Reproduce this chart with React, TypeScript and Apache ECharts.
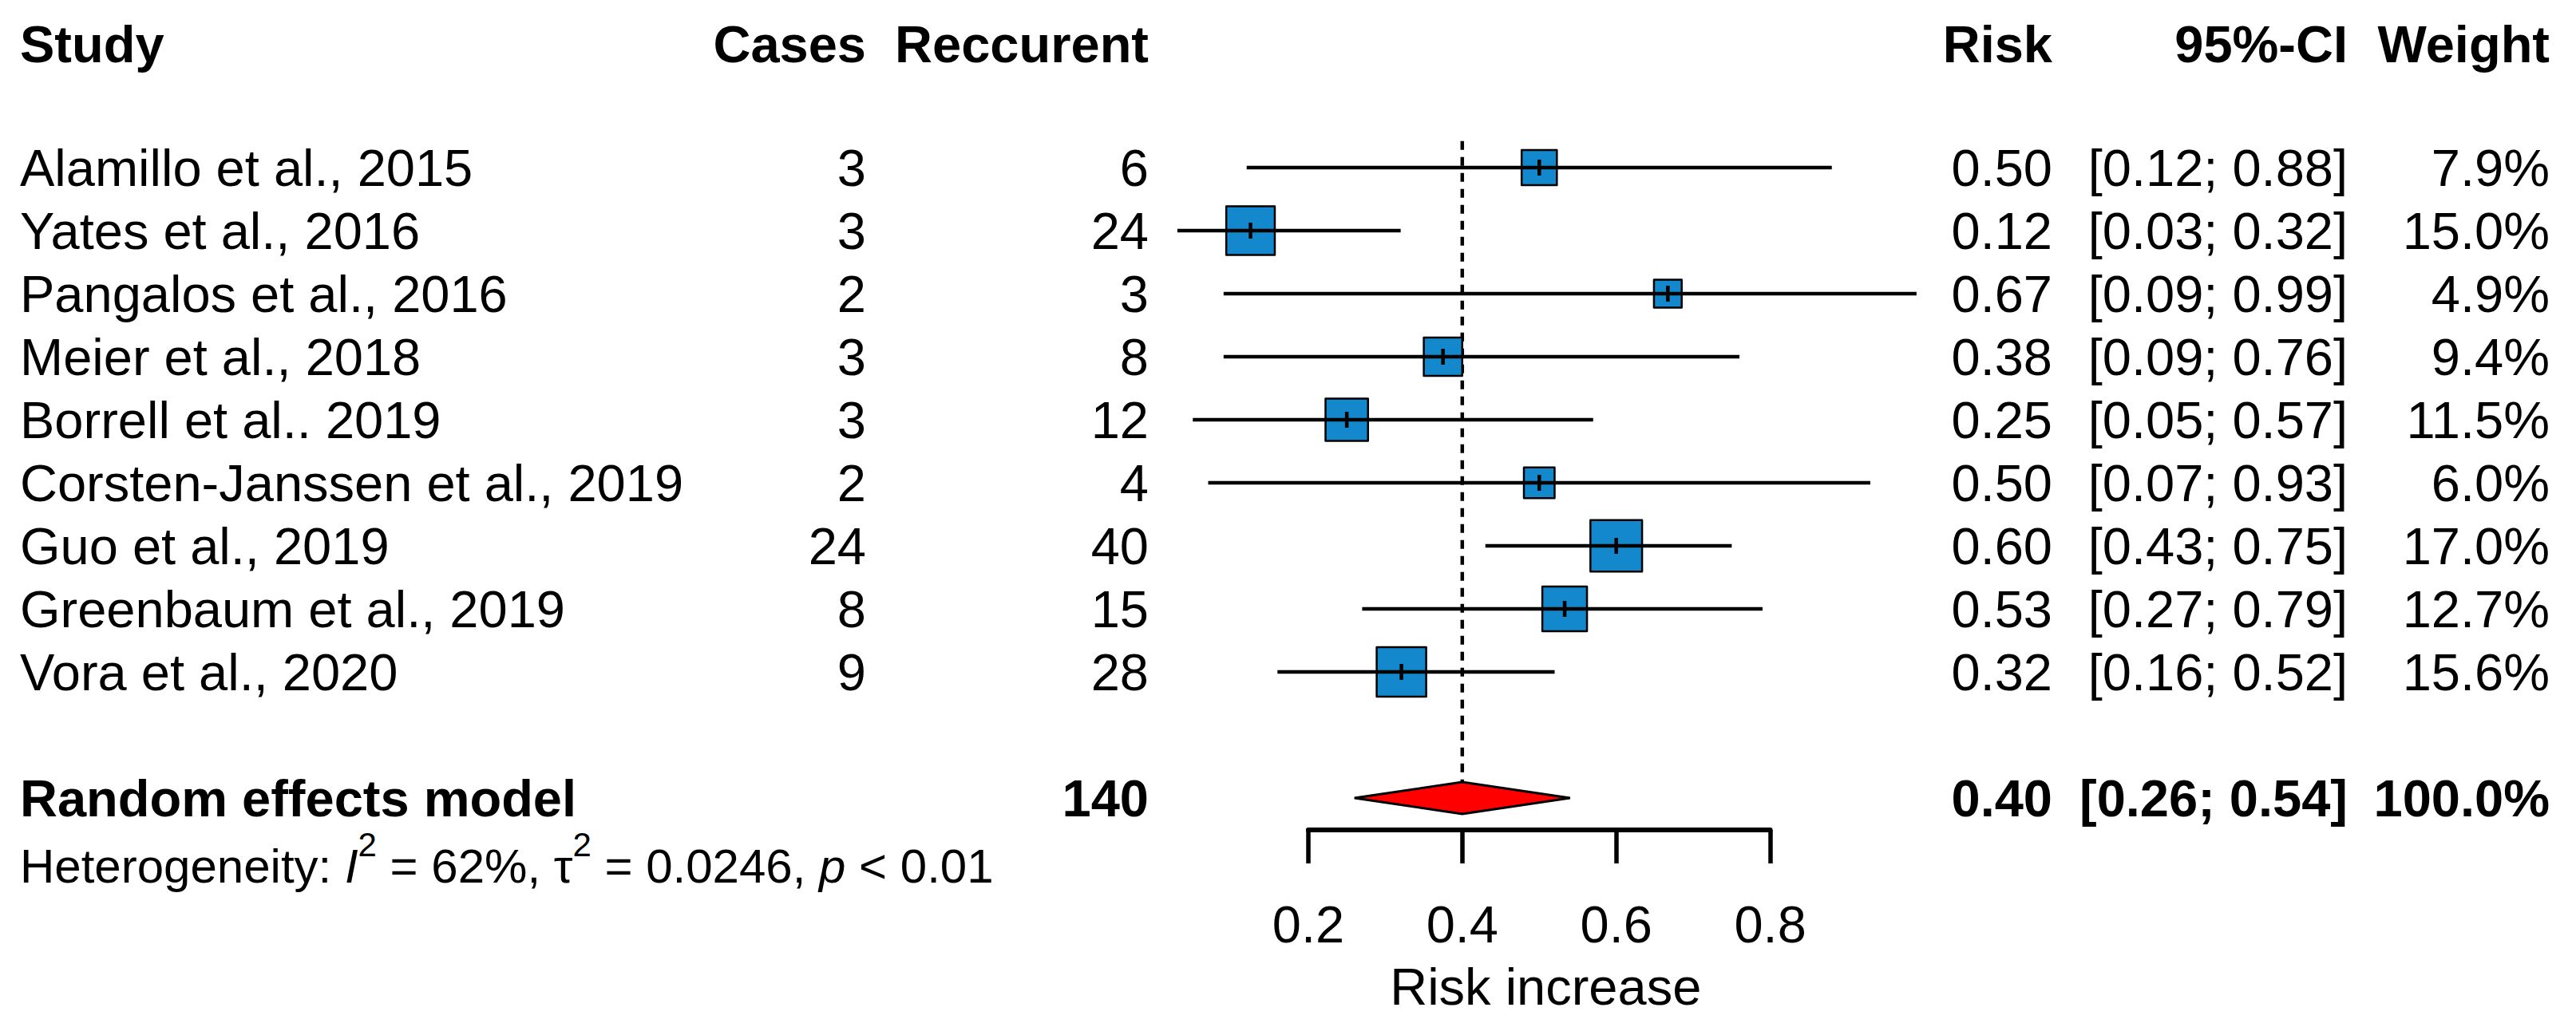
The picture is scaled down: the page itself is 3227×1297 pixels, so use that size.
import React, { useEffect, useRef } from "react";
import * as echarts from "echarts";

// ---------- data ----------
const HEADERS = ["Study", "Cases", "Reccurent", "Risk", "95%-CI", "Weight"];
const STUDIES = [
  "Alamillo et al., 2015",
  "Yates et al., 2016",
  "Pangalos et al., 2016",
  "Meier et al., 2018",
  "Borrell et al.. 2019",
  "Corsten-Janssen et al., 2019",
  "Guo et al., 2019",
  "Greenbaum et al., 2019",
  "Vora et al., 2020",
];
const CASES = [3, 3, 2, 3, 3, 2, 24, 8, 9];
const RECURRENT = [6, 24, 3, 8, 12, 4, 40, 15, 28];
const RISK = [0.5, 0.12, 0.67, 0.38, 0.25, 0.5, 0.6, 0.53, 0.32];
// point estimates as placed in the plot
const POINT = [0.5, 0.125, 0.667, 0.375, 0.25, 0.5, 0.6, 0.533, 0.321];
const CI_LOW = [0.12, 0.03, 0.09, 0.09, 0.05, 0.07, 0.43, 0.27, 0.16];
const CI_HIGH = [0.88, 0.32, 0.99, 0.76, 0.57, 0.93, 0.75, 0.79, 0.52];
const WEIGHT = [7.9, 15.0, 4.9, 9.4, 11.5, 6.0, 17.0, 12.7, 15.6];

const POOLED_LABEL = "Random effects model";
const POOLED_TOTAL = 140;
const POOLED_EST = 0.4;
const POOLED_LOW = 0.26;
const POOLED_HIGH = 0.54;
const POOLED_WEIGHT = 100.0;

const HET_I2 = "62%";
const HET_TAU2 = "0.0246";
const HET_P = "< 0.01";

const X_TICKS = [0.2, 0.4, 0.6, 0.8];
const X_NAME = "Risk increase";

// ---------- layout ----------
const W = 3227;
const H = 1297;
const FONT = '"Liberation Sans", Arial, Helvetica, sans-serif';
const FS = 65;
const FS_HET = 60;
const ROW0 = 210; // px centre of first study row
const ROW_H = 79; // px per row
const HEADER_ROW = -1.95;
const POOLED_ROW = 10;
const HET_ROW = 11.08;
const REF_TOP_ROW = -0.42;
const X0 = 1446; // px of value 0
const XS = 964.5; // px per unit
const PLOT_LEFT = X0 + XS * X_TICKS[0];
const PLOT_W = XS * (X_TICKS[X_TICKS.length - 1] - X_TICKS[0]);
const AXIS_Y = 1040;
const COL_X = [25, 1085, 1439, 2571, 2941, 3194];
const BLUE = "#1388CC";
const SQ_K = 15.7;
const DIAMOND_HALF = 20;
const CI_W = 4.6;

type Row = { k: number; bold: boolean; cells: string[] };

const tableRows: Row[] = [
  { k: HEADER_ROW, bold: true, cells: HEADERS },
  ...STUDIES.map((s, i) => ({
    k: i,
    bold: false,
    cells: [
      s,
      String(CASES[i]),
      String(RECURRENT[i]),
      RISK[i].toFixed(2),
      `[${CI_LOW[i].toFixed(2)}; ${CI_HIGH[i].toFixed(2)}]`,
      `${WEIGHT[i].toFixed(1)}%`,
    ],
  })),
  {
    k: POOLED_ROW,
    bold: true,
    cells: [
      POOLED_LABEL,
      "",
      String(POOLED_TOTAL),
      POOLED_EST.toFixed(2),
      `[${POOLED_LOW.toFixed(2)}; ${POOLED_HIGH.toFixed(2)}]`,
      `${POOLED_WEIGHT.toFixed(1)}%`,
    ],
  },
];

function buildOption(): any {
  const yMin = -ROW0 / ROW_H;
  return {
    animation: false,
    backgroundColor: "#ffffff",
    grid: [
      { left: 0, top: 0, width: W, height: H, outerBoundsMode: "none", containLabel: false },
      { left: PLOT_LEFT, top: 0, width: PLOT_W, height: AXIS_Y, outerBoundsMode: "none", containLabel: false },
    ],
    xAxis: [
      { gridIndex: 0, type: "value", min: 0, max: W, show: false },
      {
        gridIndex: 1,
        type: "value",
        min: X_TICKS[0],
        max: X_TICKS[X_TICKS.length - 1],
        interval: X_TICKS[1] - X_TICKS[0],
        axisLine: { show: true, onZero: false, lineStyle: { color: "#000", width: 6 } },
        axisTick: { show: true, length: 42, lineStyle: { color: "#000", width: 5.5 } },
        splitLine: { show: false },
        axisLabel: {
          show: true,
          margin: 86,
          fontSize: FS,
          fontFamily: FONT,
          color: "#000",
          formatter: (v: number) => v.toFixed(1),
        },
        name: X_NAME,
        nameLocation: "middle",
        nameGap: 164,
        nameTextStyle: { fontSize: FS, fontFamily: FONT, color: "#000", padding: [0, 0, 0, 16] },
      },
    ],
    yAxis: [
      { gridIndex: 0, type: "value", inverse: true, min: yMin, max: (H - ROW0) / ROW_H, show: false },
      { gridIndex: 1, type: "value", inverse: true, min: yMin, max: (AXIS_Y - ROW0) / ROW_H, show: false },
    ],
    series: [
      // dotted reference line at the pooled estimate
      {
        type: "custom",
        xAxisIndex: 1,
        yAxisIndex: 1,
        silent: true,
        data: [[POOLED_EST, REF_TOP_ROW, POOLED_ROW]],
        renderItem: (params: any, api: any) => {
          const top = api.coord([api.value(0), api.value(1)]);
          const bot = api.coord([api.value(0), api.value(2)]);
          return {
            type: "line",
            shape: { x1: top[0], y1: top[1], x2: bot[0], y2: bot[1] - DIAMOND_HALF },
            style: { stroke: "#000", lineWidth: 4.5, lineDash: [11, 9] },
          };
        },
      },
      // study CIs + squares
      {
        type: "custom",
        xAxisIndex: 1,
        yAxisIndex: 1,
        silent: true,
        data: STUDIES.map((_, i) => [POINT[i], i, CI_LOW[i], CI_HIGH[i], WEIGHT[i]]),
        renderItem: (params: any, api: any) => {
          const c = api.coord([api.value(0), api.value(1)]);
          const lo = api.coord([api.value(2), api.value(1)]);
          const hi = api.coord([api.value(3), api.value(1)]);
          const s = SQ_K * Math.sqrt(api.value(4));
          return {
            type: "group",
            children: [
              {
                type: "rect",
                shape: { x: c[0] - s / 2, y: c[1] - s / 2, width: s, height: s },
                style: { fill: BLUE, stroke: "#000", lineWidth: 2.5, lineJoin: "round" },
              },
              {
                type: "line",
                shape: { x1: lo[0], y1: c[1], x2: hi[0], y2: c[1] },
                style: { stroke: "#000", lineWidth: CI_W },
              },
              {
                type: "line",
                shape: { x1: c[0], y1: c[1] - 10, x2: c[0], y2: c[1] + 10 },
                style: { stroke: "#000", lineWidth: 4.5 },
              },
            ],
          };
        },
      },
      // pooled diamond
      {
        type: "custom",
        xAxisIndex: 1,
        yAxisIndex: 1,
        silent: true,
        data: [[POOLED_EST, POOLED_ROW, POOLED_LOW, POOLED_HIGH]],
        renderItem: (params: any, api: any) => {
          const c = api.coord([api.value(0), api.value(1)]);
          const lo = api.coord([api.value(2), api.value(1)]);
          const hi = api.coord([api.value(3), api.value(1)]);
          return {
            type: "polygon",
            shape: {
              points: [
                [lo[0], c[1]],
                [c[0], c[1] - DIAMOND_HALF],
                [hi[0], c[1]],
                [c[0], c[1] + DIAMOND_HALF],
              ],
            },
            style: { fill: "#FF0000", stroke: "#000", lineWidth: 3 },
          };
        },
      },
      // table text
      {
        type: "custom",
        xAxisIndex: 0,
        yAxisIndex: 0,
        silent: true,
        data: tableRows.map((r) => [0, r.k]),
        renderItem: (params: any, api: any) => {
          const r = tableRows[params.dataIndex];
          return {
            type: "group",
            children: r.cells.map((t, j) => {
              const p = api.coord([COL_X[j], r.k]);
              return {
                type: "text",
                x: p[0],
                y: p[1],
                style: {
                  text: t,
                  align: j === 0 ? "left" : "right",
                  verticalAlign: "middle",
                  fontSize: FS,
                  fontFamily: FONT,
                  fontWeight: r.bold ? "bold" : "normal",
                  fill: "#000",
                },
              };
            }),
          };
        },
      },
      // heterogeneity line
      {
        type: "custom",
        xAxisIndex: 0,
        yAxisIndex: 0,
        silent: true,
        data: [[COL_X[0], HET_ROW]],
        renderItem: (params: any, api: any) => {
          const p = api.coord([api.value(0), api.value(1)]);
          return {
            type: "text",
            x: p[0],
            y: p[1],
            style: {
              text: `{n|Heterogeneity: }{i|I}{s|2}{n| = ${HET_I2}, τ}{s|2}{n| = ${HET_TAU2}, }{i|p}{n| ${HET_P}}`,
              align: "left",
              verticalAlign: "middle",
              fontFamily: FONT,
              fontSize: FS_HET,
              fill: "#000",
              rich: {
                n: { fontSize: FS_HET, fontFamily: FONT, fill: "#000", lineHeight: 96 },
                i: { fontSize: FS_HET, fontFamily: FONT, fontStyle: "italic", fill: "#000", lineHeight: 96 },
                s: { fontSize: 42, fontFamily: FONT, fill: "#000", verticalAlign: "top", lineHeight: 42 },
              },
            },
          };
        },
      },
    ],
  };
}

export default function App() {
  const ref = useRef<HTMLDivElement>(null);
  useEffect(() => {
    if (!ref.current) return;
    const chart = echarts.init(ref.current, null, { renderer: "svg", width: W, height: H });
    chart.setOption(buildOption());
    return () => chart.dispose();
  }, []);
  return (
    <div
      ref={ref}
      style={{ position: "absolute", left: 0, top: 0, width: W, height: H, background: "#fff" }}
    />
  );
}
